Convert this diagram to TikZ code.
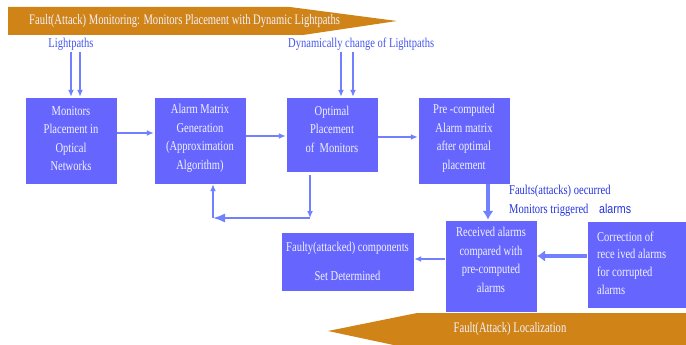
\documentclass[tikz,border=0pt]{standalone}
\usepackage{fontspec}
\setmainfont[FakeStretch=0.78]{Liberation Serif}
\newfontfamily\bannerf[FakeStretch=0.73]{Liberation Serif}
\newfontfamily\sansf[FakeStretch=0.82]{Liberation Sans}
\usetikzlibrary{arrows.meta}
\definecolor{boxblue}{HTML}{6666FF}
\definecolor{arrblue}{HTML}{7080FF}
\definecolor{lblblue}{HTML}{4455EE}
\definecolor{darkblue}{HTML}{2233DD}
\definecolor{banner}{HTML}{D08418}
\definecolor{boxtext}{HTML}{F2F2FF}
\tikzset{
  blk/.style={draw=white, line width=0.4pt, fill=boxblue, inner sep=0pt},
  blkt/.style={text=boxtext, align=center, font=\fontsize{13.5}{18.5}\selectfont, inner sep=0pt},
  arr/.style={draw=arrblue, line width=1.6pt, -{Latex[length=7pt,width=6pt]}},
  thickarr/.style={draw=arrblue, line width=3.5pt, -{Latex[length=9pt,width=11pt]}},
  lbl/.style={text=lblblue, font=\fontsize{13.5}{14}\selectfont, inner sep=0pt},
  bannertext/.style={text=boxtext, font=\bannerf\fontsize{14.5}{16}\selectfont, inner sep=0pt}
}
\begin{document}
\begin{tikzpicture}[x=1pt,y=-1pt]
\useasboundingbox (0,0) rectangle (686,345);
% banners
\fill[banner] (8,7) -- (290,7) -- (397,21) -- (303,35) -- (8,35) -- cycle;
\node[bannertext, anchor=west] (ttl) at (29,21) {Fault(Attack) Monitoring: Monitors Placement with Dynamic Lightpaths};
\fill[banner] (328,331) -- (417,313) -- (690,313) -- (690,350) -- (417,350) -- cycle;
\node[bannertext] (loc) at (510,329) {Fault(Attack) Localization};
% boxes
\node[blk, minimum width=92, minimum height=87] (b1) at (71,140.5) {};
\node[blkt] (b1t) at (71,138.5) {Monitors\\Placement in\\Optical\\Networks};
\node[blk, minimum width=92, minimum height=87] (b2) at (200,140.5) {};
\node[blkt] (b2t) at (200,138.5) {Alarm Matrix\\Generation\\(Approximation\\Algorithm)};
\node[blk, minimum width=92, minimum height=75] (b3) at (332,134.5) {};
\node[blkt] (b3t) at (332,129) {Optimal\\Placement\\of\ \ Monitors};
\node[blk, minimum width=92, minimum height=87] (b4) at (464,140.5) {};
\node[blkt] (b4t) at (464,138.5) {Pre -computed\\Alarm matrix\\after optimal\\placement};
\node[blk, minimum width=92, minimum height=92] (b5) at (491,266) {};
\node[blkt] (b5t) at (491,260) {Received alarms\\compared with\\pre-computed\\alarms};
\node[blk, minimum width=133, minimum height=59] (b6) at (347.5,261.5) {};
\node[blkt] (b6t) at (347.5,261.5) {Faulty(attacked) components\\[10pt]Set Determined};
\node[blk, minimum width=104, minimum height=87] (b7) at (639,264.5) {};
\node[blkt, align=left, anchor=west, font=\fontsize{13.5}{17.7}\selectfont] (b7t) at (597,263) {Correction of\\rece ived alarms\\for corrupted\\alarms};
% labels
\node[lbl] (lp) at (71,44) {Lightpaths};
\node[lbl, anchor=west] (dyn) at (288,44) {Dynamically change of Lightpaths};
\node[lbl, anchor=west, text=darkblue] (fo) at (509,191) {Faults(attacks) oecurred};
\node[lbl, anchor=west, text=darkblue] (mt) at (509,210) {Monitors triggered};
\node[lbl, anchor=west, text=darkblue, font=\sansf\fontsize{13}{14}\selectfont] (al) at (599,209) {alarms};
% input arrows
\coordinate (lp1) at (71,52);
\coordinate (lp2) at (80,52);
\coordinate (dy1) at (341,52);
\coordinate (dy2) at (353,52);
\draw[arr] (lp1) -- (lp1 |- b1.north);
\draw[arr] (lp2) -- (lp2 |- b1.north);
\draw[arr] (dy1) -- (dy1 |- b3.north);
\draw[arr] (dy2) -- (dy2 |- b3.north);
% chain
\draw[arr] (b1.east |- 0,133) -- (b2.west |- 0,133);
\draw[arr] (b2.east |- 0,136) -- (b3.west |- 0,136);
\draw[arr] (b3.east |- 0,137) -- (b4.west |- 0,137);
% feedback loop
\coordinate (lA) at (310,218);
\coordinate (lB) at (213,218);
\draw[arr] (b3.south -| lA) ++(0,3) -- (lA);
\draw[arr, -{Latex[length=12pt,width=9pt]}] (lA) -- (lB);
\draw[arr] (lB) -- (lB |- b2.south);
% lower part
\draw[thickarr] (b4.south -| 488,0) -- (b5.north -| 488,0);
\draw[arr] (b5.west |- 0,259) -- (b6.east |- 0,259);
\draw[thickarr, -{Latex[length=8pt,width=12pt]}] (b7.west |- 0,256) -- (b5.east |- 0,256);
\end{tikzpicture}
\end{document}
